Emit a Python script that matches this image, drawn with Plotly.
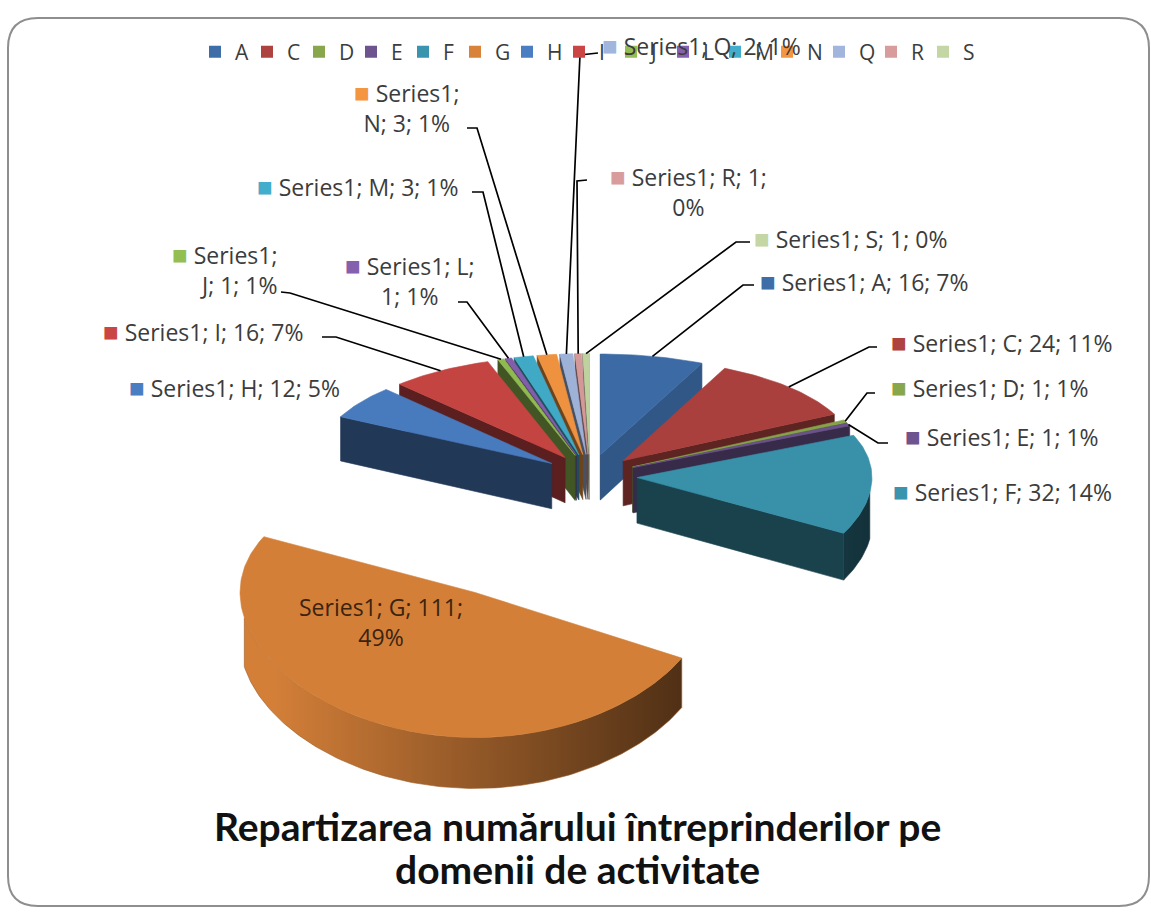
import numpy as np
import plotly.graph_objects as go

# ---------------- data ----------------
categories = ["A", "C", "D", "E", "F", "G", "H", "I", "J", "L", "M", "N", "Q", "R", "S"]
values = [16, 24, 1, 1, 32, 111, 12, 16, 1, 1, 3, 3, 2, 1, 1]
percent_labels = ["7%", "11%", "1%", "1%", "14%", "49%", "5%", "7%", "1%", "1%", "1%", "1%", "1%", "0%", "0%"]
series_name = "Series1"
title_lines = ["Repartizarea numărului întreprinderilor pe", "domenii de activitate"]

# ---------------- styles ----------------
slice_colors = {
    "A": "#3E6DA8", "C": "#AD423F", "D": "#88A74C", "E": "#6E548F", "F": "#3A94AD",
    "G": "#D8823A", "H": "#4A7EC2", "I": "#C94644", "J": "#93BE52", "L": "#8560AE",
    "M": "#42AECB", "N": "#F39541", "Q": "#A2B5DC", "R": "#D99C9D", "S": "#C3D6A3",
}
LABEL_FONT = "Open Sans"
TITLE_FONT = "Lato"
LABEL_SIZE = 23
LEGEND_SIZE = 21
TEXT_COLOR = "#3c3c3c"
W, H = 1151, 912

# pseudo-3D pie projection settings (horizontal axis orthographic,
# vertical axis foreshortened with perspective)
CX, CY = 590, 522          # screen position of the pie centre
SCALE = 235                # pixels per radius
TILT = np.radians(29.3)    # view elevation
DIST = 10.8                # camera distance (radii)
THICK = 0.22               # pie thickness (radii)
EXPLODE = 0.2              # default explosion
EXPLODE_BY_CAT = {"G": 1.07}

cT, sT = np.cos(TILT), np.sin(TILT)
CAM = np.array([0.0, -DIST * cT, DIST * sT])


def project(X, Y, Z):
    X = np.asarray(X, float)
    Y = np.asarray(Y, float)
    Z = np.asarray(Z, float)
    depth = Y * cT - Z * sT + DIST
    up = Y * sT + Z * cT
    return CX + SCALE * X, CY - SCALE * DIST * up / depth


def shade(hex_color, f):
    h = hex_color.lstrip("#")
    rgb = np.array([int(h[i:i + 2], 16) for i in (0, 2, 4)], float)
    if f <= 1:
        rgb = rgb * f
    else:
        rgb = rgb + (255 - rgb) * (f - 1)
    rgb = np.clip(rgb, 0, 255).astype(int)
    return "rgb(%d,%d,%d)" % tuple(rgb)


def polygon(xs, ys, color, gradient=None):
    tr = dict(x=list(xs) + [xs[0]], y=list(ys) + [ys[0]], mode="lines", fill="toself",
              line=dict(width=0.6, color=color), hoverinfo="skip", showlegend=False)
    if gradient is not None:
        tr["fillgradient"] = dict(type="horizontal", colorscale=gradient)
    else:
        tr["fillcolor"] = color
    return go.Scatter(**tr)


total = float(sum(values))
cum = np.concatenate([[0.0], np.cumsum(values)])
start_ang = 2 * np.pi * cum[:-1] / total
end_ang = 2 * np.pi * cum[1:] / total

slice_traces = []
label_targets = {}
for i, cat in enumerate(categories):
    a0, a1 = start_ang[i], end_ang[i]
    am = 0.5 * (a0 + a1)
    e = EXPLODE_BY_CAT.get(cat, EXPLODE)
    ox, oy = e * np.sin(am), e * np.cos(am)
    base = slice_colors[cat]
    n = max(3, int(np.degrees(a1 - a0) / 1.0) + 2)
    arc = np.linspace(a0, a1, n)
    axs, ays = ox + np.sin(arc), oy + np.cos(arc)
    traces = []

    # curved outer wall (only the part facing the camera)
    vis = (-axs) * np.sin(arc) + (CAM[1] - ays) * np.cos(arc) > 0
    if vis.sum() >= 2:
        va = arc[vis]
        vx, vy = axs[vis], ays[vis]
        tx, ty = project(vx, vy, np.full_like(vx, THICK))
        bx, by = project(vx, vy, np.zeros_like(vx))
        px = np.concatenate([tx, bx[::-1]])
        py = np.concatenate([ty, by[::-1]])
        fvals = np.clip(0.68 - 0.35 * np.sin(va), 0.3, 0.98)
        xmin, xmax = px.min(), px.max()
        t = (tx - xmin) / max(xmax - xmin, 1e-6)
        order = np.argsort(t)
        stops = []
        last = -1
        for j in order:
            tv = float(np.clip(t[j], 0, 1))
            if tv > last + 1e-4:
                stops.append([tv, shade(base, fvals[j])])
                last = tv
        stops[0][0] = 0.0
        if len(stops) == 1:
            stops.append([1.0, stops[0][1]])
        stops[-1][0] = 1.0
        traces.append(polygon(px, py, shade(base, float(fvals.mean())), gradient=stops))

    # radial cut faces
    for ang, nrm in ((a0, (-np.cos(a0), np.sin(a0))), (a1, (np.cos(a1), -np.sin(a1)))):
        mx, my = ox + 0.5 * np.sin(ang), oy + 0.5 * np.cos(ang)
        if (CAM[0] - mx) * nrm[0] + (CAM[1] - my) * nrm[1] <= 0:
            continue
        fx = [ox, ox + np.sin(ang), ox + np.sin(ang), ox]
        fy = [oy, oy + np.cos(ang), oy + np.cos(ang), oy]
        fz = [THICK, THICK, 0, 0]
        sx, sy = project(fx, fy, fz)
        f = 0.45 + 0.35 * np.clip((nrm[0] - 0.3) / 0.5, 0, 1)
        traces.append(polygon(sx, sy, shade(base, f)))

    # top face
    tx, ty = project(np.concatenate([[ox], axs]), np.concatenate([[oy], ays]),
                     np.full(n + 1, THICK))
    traces.append(polygon(tx, ty, shade(base, 0.98)))

    depth_key = np.cos(am) * (e + 0.5)
    slice_traces.append((depth_key, traces))
    lx, ly = project(ox + np.sin(am), oy + np.cos(am), THICK)
    label_targets[cat] = (float(lx), float(ly))

fig = go.Figure()
for _, trs in sorted(slice_traces, key=lambda s: -s[0]):
    for tr in trs:
        fig.add_trace(tr)

# legend entries (a blank trailing entry keeps the last letter inside the legend box)
for cat in categories:
    fig.add_trace(go.Scatter(x=[None], y=[None], mode="markers", name=cat,
                             marker=dict(symbol="square", size=12, color=slice_colors[cat])))
fig.add_trace(go.Scatter(x=[None], y=[None], mode="markers", name=" ",
                         marker=dict(symbol="square", size=1, color="rgba(0,0,0,0)")))

# data labels: anchor position, anchor side, alignment, leader start
label_layout = {
    "Q": dict(x=600, y=45, xa="left", al="left", lead=((598, 53), (580, 55))),
    "R": dict(x=688, y=190, xa="center", al="center", lead=((587, 180), (577, 181)), wrap=3),
    "S": dict(x=752, y=238, xa="left", al="left", lead=((750, 242), (736, 242))),
    "A": dict(x=758, y=281, xa="left", al="left", lead=((754, 285), (743, 285))),
    "C": dict(x=889, y=342, xa="left", al="left", lead=((877, 347), (869, 347))),
    "D": dict(x=889, y=387, xa="left", al="left", lead=((875, 393), (867, 393))),
    "E": dict(x=903, y=436, xa="left", al="left", lead=((888, 443), (878, 443))),
    "F": dict(x=891, y=491, xa="left", al="left", lead=None),
    "G": dict(x=381, y=622, xa="center", al="center", lead=None, wrap=3, nokey=True),
    "H": dict(x=127, y=387, xa="left", al="left", lead=None),
    "I": dict(x=101, y=331, xa="left", al="left", lead=((322, 337), (336, 337))),
    "J": dict(x=280, y=268, xa="right", al="right", lead=((281, 292), (290, 293)), wrap=1),
    "L": dict(x=410, y=279, xa="center", al="center", lead=((458, 302), (467, 302)), wrap=2),
    "M": dict(x=255, y=186, xa="left", al="left", lead=((472, 192), (483, 192))),
    "N": dict(x=407, y=106, xa="center", al="center", lead=((467, 128), (477, 128)), wrap=1),
}

annotations = []
for i, cat in enumerate(categories):
    spec = label_layout[cat]
    parts = [series_name, cat, str(values[i]), percent_labels[i]]
    wrap = spec.get("wrap")
    if wrap is None:
        body = "; ".join(parts)
    else:
        body = "; ".join(parts[:wrap]) + ";<br>" + "; ".join(parts[wrap:])
    if spec.get("nokey"):
        text = body
        color = "#3a2410"
    else:
        text = "<span style='color:%s;font-size:26px'>■</span> " % slice_colors[cat] + body
        color = TEXT_COLOR
    annotations.append(dict(x=spec["x"], y=spec["y"], xref="x", yref="y", text=text,
                            showarrow=False, xanchor=spec["xa"], yanchor="middle",
                            align=spec["al"],
                            font=dict(family=LABEL_FONT, size=LABEL_SIZE, color=color)))
    if spec["lead"] is not None:
        (x0, y0), (x1, y1) = spec["lead"]
        x2, y2 = label_targets[cat]
        fig.add_trace(go.Scatter(x=[x0, x1, x2], y=[y0, y1, y2], mode="lines",
                                 line=dict(color="#000000", width=1.7),
                                 hoverinfo="skip", showlegend=False))

# chart title, two centred lines
for line, ty in zip(title_lines, (826, 869)):
    annotations.append(dict(x=577, y=ty, xref="x", yref="y", text="<b>%s</b>" % line,
                            showarrow=False, xanchor="center", yanchor="middle",
                            font=dict(family=TITLE_FONT, size=39, color="#111111")))

# rounded frame of the chart area
r = 30
x0, y0, x1, y1 = 8, 18, 1149, 906
frame = (f"M {x0 + r},{y0} L {x1 - r},{y0} Q {x1},{y0} {x1},{y0 + r} "
         f"L {x1},{y1 - r} Q {x1},{y1} {x1 - r},{y1} L {x0 + r},{y1} "
         f"Q {x0},{y1} {x0},{y1 - r} L {x0},{y0 + r} Q {x0},{y0} {x0 + r},{y0} Z")

fig.update_layout(
    width=W, height=H,
    margin=dict(l=0, r=0, t=0, b=0),
    paper_bgcolor="white", plot_bgcolor="white",
    xaxis=dict(range=[0, W], visible=False, fixedrange=True),
    yaxis=dict(range=[H, 0], visible=False, fixedrange=True),
    shapes=[dict(type="path", path=frame, xref="x", yref="y",
                 line=dict(color="#8e8e8e", width=2), layer="below")],
    annotations=annotations,
    legend=dict(orientation="h", x=195 / W, y=1 - 52 / H, xanchor="left", yanchor="middle",
                entrywidth=7, entrywidthmode="pixels", itemclick=False,
                font=dict(family=LABEL_FONT, size=LEGEND_SIZE, color=TEXT_COLOR),
                bgcolor="rgba(0,0,0,0)"),
    showlegend=True,
)

fig.write_html("out.html")
